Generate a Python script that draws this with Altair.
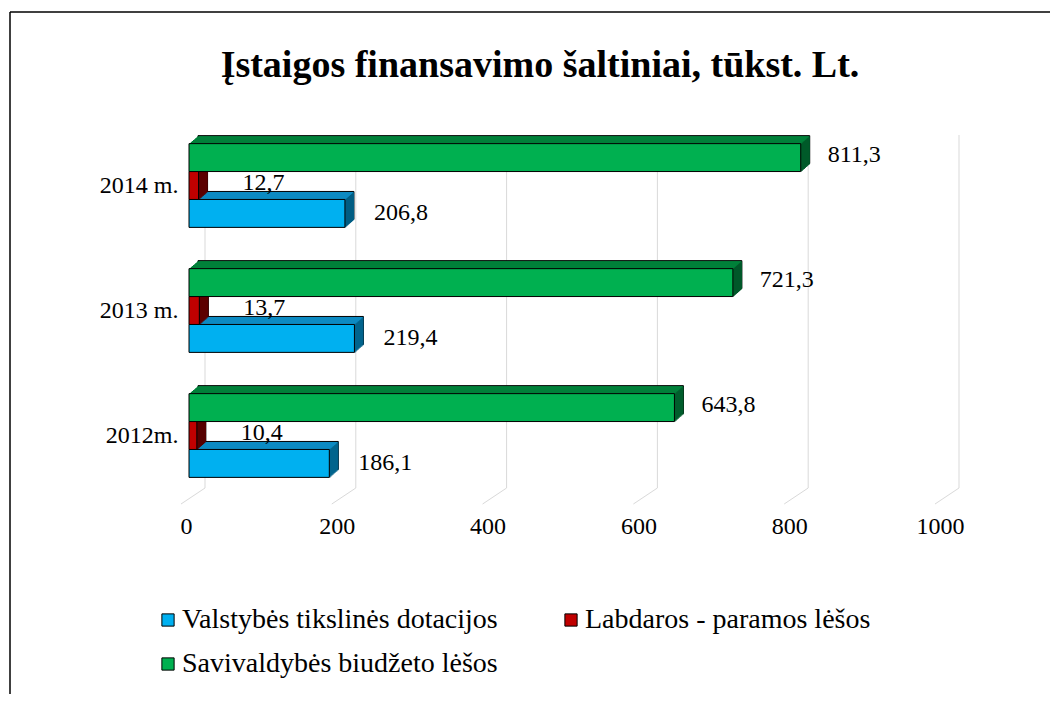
import altair as alt
import pandas as pd

# ---------------- data ----------------
years = ["2014 m.", "2013 m.", "2012m."]
series = ["Valstybės tikslinės dotacijos", "Labdaros - paramos lėšos", "Savivaldybės biudžeto lėšos"]
valstybes = [206.8, 219.4, 186.1]
labdaros = [12.7, 13.7, 10.4]
savivaldybes = [811.3, 721.3, 643.8]
x_ticks = [0, 200, 400, 600, 800, 1000]
title_text = "Įstaigos finansavimo šaltiniai, tūkst. Lt."

# ---------------- style ----------------
FONT = "Liberation Serif"
front_colors = ["#00B0F0", "#C00000", "#00B050"]
top_colors = ["#0C8AC2", "#8A0000", "#00813A"]
side_colors = ["#005E84", "#560000", "#00582A"]
DEPTH = 9
DY = 8.0 / 9.0
BAND = 125 * (1 - 0.33)  # pixel bandwidth of one year group

rows = []
for s, vals, tc, sc in zip(series, [valstybes, labdaros, savivaldybes], top_colors, side_colors):
    for y, v in zip(years, vals):
        rows.append(dict(year=y, series=s, value=v,
                         label=f"{v:.1f}".replace(".", ","), top=tc, side=sc))
df = pd.DataFrame(rows)
ticks_df = pd.DataFrame({"tick": x_ticks})
one = pd.DataFrame({"t": [title_text]})

stack_order = [series[2], series[1], series[0]]

xscale = alt.Scale(domain=[0, 1000], nice=False, zero=True)
x_axis = alt.Axis(title=None, values=x_ticks, format="d", grid=False, domain=False, ticks=False,
                  labelFont=FONT, labelFontSize=24, labelColor="black", labelFlush=False,
                  labelPadding=16, labelOffset=-3)
y_axis = alt.Axis(title=None, domain=False, ticks=False, labelFont=FONT,
                  labelFontSize=24, labelColor="black", labelPadding=11)


def X(field="value"):
    return alt.X(f"{field}:Q", scale=xscale, axis=x_axis)


Y = alt.Y("year:N", sort=years, scale=alt.Scale(paddingInner=0.33, paddingOuter=0.165), axis=y_axis)


def YO(shift=0.0):
    return alt.YOffset("series:N",
                       scale=alt.Scale(domain=stack_order, paddingInner=0, paddingOuter=0,
                                       range=[-shift, BAND - shift]))


YO_TEXT = alt.YOffset("series:N",
                      scale=alt.Scale(domain=stack_order, padding=0.5, range=[0, BAND]))

base = alt.Chart(df)
layers = []

# gridlines (back wall + floor diagonal)
layers.append(alt.Chart(ticks_df).mark_rule(color="#D9D9D9", strokeWidth=1, xOffset=16).encode(
    x=X("tick"), y=alt.value(12), y2=alt.value(365)))
layers.append(alt.Chart(ticks_df).mark_rule(color="#D9D9D9", strokeWidth=1, xOffset=16, x2Offset=-8).encode(
    x=X("tick"), x2="tick:Q", y=alt.value(365), y2=alt.value(381)))

# 3D extrusion: far face stroked first, then inner layers
for k in range(DEPTH, 0, -1):
    kw = dict(xOffset=k, x2Offset=k)
    if k == DEPTH:
        kw.update(stroke="black", strokeWidth=1)
    layers.append(base.mark_bar(**kw).encode(
        x=X(), y=Y, yOffset=YO(k * DY), color=alt.Color("top:N", scale=None)))
# side faces
for t in range(0, DEPTH):
    layers.append(base.mark_bar(xOffset=t, x2Offset=t + 1.2).encode(
        x=X(), x2="value:Q", y=Y, yOffset=YO(t * DY), color=alt.Color("side:N", scale=None)))

# front faces + legend
layers.append(base.mark_bar(stroke="black", strokeWidth=1).encode(
    x=X(), y=Y, yOffset=YO(0),
    color=alt.Color("series:N", scale=alt.Scale(domain=series, range=front_colors),
                    legend=alt.Legend(title=None, orient="none", legendX=-35, legendY=483,
                                      columns=2, direction="horizontal", symbolType="square",
                                      symbolSize=150, symbolStrokeColor="black",
                                      symbolStrokeWidth=1, symbolOpacity=1,
                                      labelFont=FONT, labelFontSize=28, labelColor="black",
                                      columnPadding=59, rowPadding=16, labelLimit=0,
                                      labelOffset=0))))

# value labels
label_dx = {series[0]: 29, series[1]: 44, series[2]: 27}
label_dy = {series[0]: 0, series[1]: -3, series[2]: -3}
for s in series:
    layers.append(base.transform_filter(alt.datum.series == s).mark_text(
        align="left", baseline="middle", dx=label_dx[s], dy=label_dy[s],
        font=FONT, fontSize=24, color="black").encode(
        x=X(), y=Y, yOffset=YO_TEXT, text="label:N"))

# title
layers.append(alt.Chart(one).mark_text(font=FONT, fontSize=38, fontWeight="bold", color="black",
                                       align="center", baseline="alphabetic").encode(
    text="t:N", x=alt.value(351), y=alt.value(-46)))

# outer frame (top and left edges)
layers.append(alt.Chart(one).mark_rule(color="black", strokeWidth=1.5).encode(
    x=alt.value(-179), x2=alt.value(869), y=alt.value(-111)))
layers.append(alt.Chart(one).mark_rule(color="black", strokeWidth=1.5).encode(
    x=alt.value(-179), y=alt.value(-111), y2=alt.value(579)))

chart = alt.layer(*layers).resolve_scale(yOffset="independent").properties(
    width=754, height=375,
    padding={"left": 181, "top": 115, "right": 107, "bottom": 196},
    autosize=alt.AutoSizeParams(type="none"),
    background="white",
).configure_view(stroke=None)

chart.save("out.html", embed_options={"renderer": "svg", "actions": False})
